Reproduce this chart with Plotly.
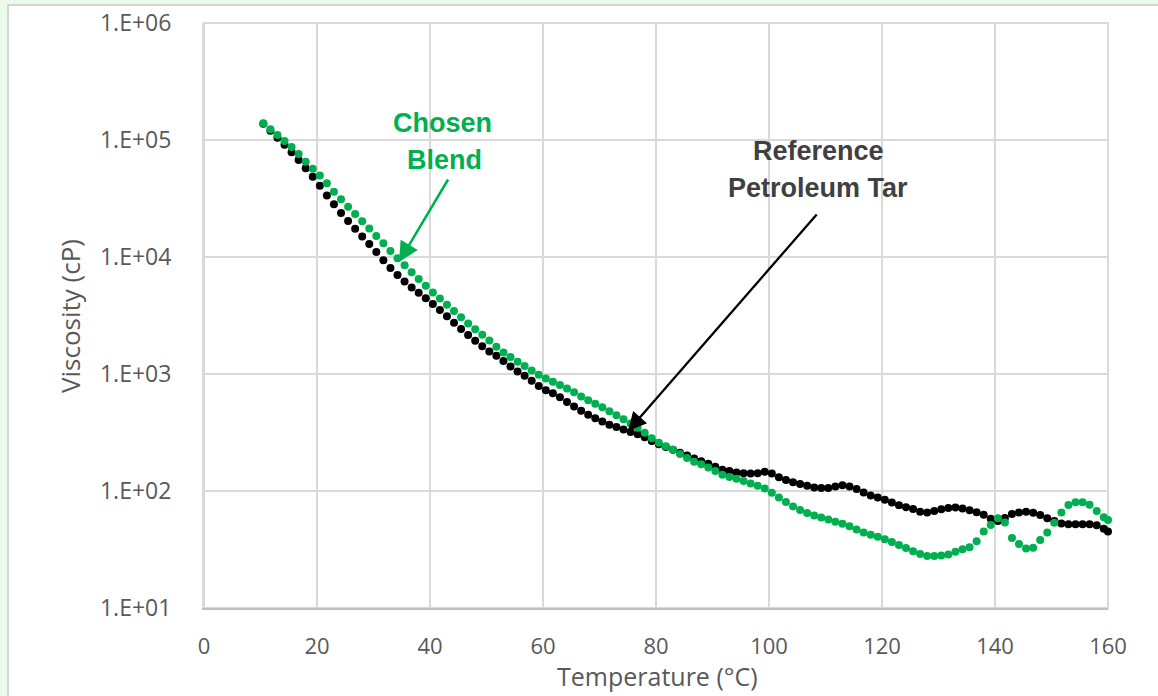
import plotly.graph_objects as go

temperature_c = [
    10.5, 11.75, 13.0, 14.25, 15.5, 16.75, 18.0, 19.25, 20.5, 21.75,
    23.0, 24.25, 25.5, 26.75, 28.0, 29.25, 30.5, 31.75, 33.0, 34.25,
    35.5, 36.75, 38.0, 39.25, 40.5, 41.75, 43.0, 44.25, 45.5, 46.75,
    48.0, 49.25, 50.5, 51.75, 53.0, 54.25, 55.5, 56.75, 58.0, 59.25,
    60.5, 61.75, 63.0, 64.25, 65.5, 66.75, 68.0, 69.25, 70.5, 71.75,
    73.0, 74.25, 75.5, 76.75, 78.0, 79.25, 80.5, 81.75, 83.0, 84.25,
    85.5, 86.75, 88.0, 89.25, 90.5, 91.75, 93.0, 94.25, 95.5, 96.75,
    98.0, 99.25, 100.5, 101.75, 103.0, 104.25, 105.5, 106.75, 108.0, 109.25,
    110.5, 111.75, 113.0, 114.25, 115.5, 116.75, 118.0, 119.25, 120.5, 121.75,
    123.0, 124.25, 125.5, 126.75, 128.0, 129.25, 130.5, 131.75, 133.0, 134.25,
    135.5, 136.75, 138.0, 139.25, 140.5, 141.75, 143.0, 144.25, 145.5, 146.75,
    148.0, 149.25, 150.5, 151.75, 153.0, 154.25, 155.5, 156.75, 158.0, 159.25,
    160.0,
]

reference_tar_cp = [
    138000, 120200, 104700, 91200, 78500, 67300, 57300, 48600, 40600, 33600,
    28200, 23800, 20300, 17400, 14960, 12910, 11040, 9380, 8070, 7000,
    6170, 5500, 4940, 4450, 3960, 3520, 3110, 2740, 2430, 2150,
    1920, 1730, 1560, 1430, 1290, 1160, 1050, 964, 875, 791,
    728, 684, 632, 577, 527, 485, 449, 418, 393, 369,
    352, 335, 320, 306, 288, 268, 251, 238, 225, 212,
    201, 190, 180, 171, 161, 152, 148, 144, 142, 141,
    142, 146, 141, 131, 124, 119, 115, 111, 107, 106,
    106, 109, 112, 109, 104, 97.3, 91.4, 87.9, 84.3, 79.8,
    75.7, 72.8, 70.1, 66.4, 65.5, 67.6, 69.8, 71.6, 72.4, 71.0,
    68.4, 65.9, 62.8, 57.8, 55.5, 58.9, 63.7, 65.5, 66.5, 65.2,
    62.4, 58.6, 55.3, 52.7, 51.9, 52.1, 52.1, 52.0, 50.9, 47.6,
    45.0,
]

chosen_blend_cp = [
    139000, 123600, 110200, 98200, 87300, 75900, 65300, 56900, 49800, 42700,
    36200, 31100, 26900, 23300, 20200, 17500, 15100, 13100, 11270, 9770,
    8490, 7410, 6500, 5680, 4980, 4420, 3910, 3450, 3050, 2700,
    2410, 2170, 1930, 1710, 1530, 1400, 1270, 1170, 1070, 986,
    916, 859, 805, 752, 697, 643, 597, 558, 520, 481,
    445, 411, 378, 347, 315, 283, 258, 241, 225, 207,
    191, 178, 169, 159, 148, 138, 132, 127, 122, 116,
    111, 105, 96.6, 88.1, 80.4, 73.8, 68.9, 64.9, 61.7, 59.3,
    57.0, 54.7, 52.5, 49.9, 46.9, 44.1, 42.2, 40.6, 38.6, 36.6,
    34.5, 32.5, 30.6, 28.9, 27.8, 27.8, 28.1, 28.7, 30.2, 31.8,
    33.0, 37.2, 45.0, 51.1, 58.6, 53.8, 39.7, 35.2, 32.2, 32.7,
    38.2, 44.2, 53.6, 65.6, 76.0, 80.0, 80.0, 76.2, 67.3, 59.8,
    56.5,
]

x_ticks = [0, 20, 40, 60, 80, 100, 120, 140, 160]
y_ticks = [10, 100, 1000, 10000, 100000, 1000000]
y_tick_labels = ["1.E+01", "1.E+02", "1.E+03", "1.E+04", "1.E+05", "1.E+06"]

W, H = 1158, 696
L, R, T, B = 204, 1108, 23, 608
GREEN = "#00b050"
GRID = "#d9d9d9"
TXT = "#595959"


def px_x(p):
    return (p - L) / (R - L)


def px_y(p):
    return (B - p) / (B - T)


fig = go.Figure()
fig.add_trace(go.Scatter(
    x=temperature_c, y=reference_tar_cp, mode="markers",
    name="Reference Petroleum Tar", cliponaxis=False,
    marker=dict(color="#000000", size=8, line=dict(width=0)),
))
fig.add_trace(go.Scatter(
    x=temperature_c, y=chosen_blend_cp, mode="markers",
    name="Chosen Blend", cliponaxis=False,
    marker=dict(color=GREEN, size=8, line=dict(width=0)),
))

# outer panel
fig.add_shape(type="rect", xref="paper", yref="paper",
              x0=px_x(8), x1=px_x(1200), y0=px_y(740), y1=px_y(5),
              fillcolor="white", line=dict(color="#d4d4d4", width=2),
              layer="below")

annos = [
    dict(text="<b>Chosen</b>", x=px_x(442), y=px_y(123), font_color=GREEN),
    dict(text="<b>Blend</b>", x=px_x(444), y=px_y(160), font_color=GREEN),
    dict(text="<b>Reference</b>", x=px_x(818), y=px_y(151), font_color="#404040"),
    dict(text="<b>Petroleum Tar</b>", x=px_x(818), y=px_y(188), font_color="#404040"),
]
for a in annos:
    fig.add_annotation(text=a["text"], x=a["x"], y=a["y"], xref="paper", yref="paper",
                       showarrow=False, xanchor="center", yanchor="middle",
                       font=dict(family="Liberation Sans Narrow, Liberation Sans, Arial",
                                 size=27, color=a["font_color"]))

# arrows (pointer tips given in paper fractions of the plot area)
fig.add_annotation(x=px_x(399), y=px_y(262), xref="paper", yref="paper", text="",
                   showarrow=True, ax=50, ay=-84, arrowhead=2, arrowsize=1.6,
                   arrowwidth=2.5, arrowcolor=GREEN, standoff=0, startstandoff=0)
fig.add_annotation(x=px_x(628), y=px_y(431), xref="paper", yref="paper", text="",
                   showarrow=True, ax=190, ay=-218, arrowhead=2, arrowsize=1.6,
                   arrowwidth=2.3, arrowcolor="#000000", standoff=0, startstandoff=0)

# axis titles
fig.add_annotation(text="Temperature (°C)", x=px_x(657), y=px_y(676), xref="paper", yref="paper",
                   showarrow=False, xanchor="center", yanchor="middle",
                   font=dict(family="Open Sans", size=25, color=TXT))
fig.add_annotation(text="Viscosity (cP)", x=px_x(70), y=px_y(316), xref="paper", yref="paper",
                   showarrow=False, xanchor="center", yanchor="middle", textangle=-90,
                   font=dict(family="Open Sans", size=26, color=TXT))

fig.update_layout(
    width=W, height=H,
    margin=dict(l=L, r=W - R, t=T, b=H - B, pad=0, autoexpand=False),
    paper_bgcolor="#ebfbeb",
    plot_bgcolor="rgba(0,0,0,0)",
    showlegend=False,
    font=dict(family="Open Sans", color=TXT),
)
fig.update_xaxes(
    range=[0, 160], tickvals=x_ticks, ticktext=[str(v) for v in x_ticks],
    showgrid=True, gridcolor=GRID, gridwidth=2, automargin=False,
    zeroline=False, showline=True, linecolor="#bfbfbf", linewidth=2,
    ticks="outside", ticklen=18, tickcolor="rgba(0,0,0,0)",
    tickfont=dict(family="Open Sans", size=22, color=TXT),
)
fig.update_yaxes(
    type="log", range=[1, 6], tickvals=y_ticks, ticktext=y_tick_labels,
    showgrid=True, gridcolor=GRID, gridwidth=2, automargin=False,
    zeroline=False, showline=True, linecolor=GRID, linewidth=2, mirror=False,
    ticks="outside", ticklen=26, tickcolor="rgba(0,0,0,0)",
    tickfont=dict(family="Open Sans", size=23, color=TXT),
)
# left / top / right plot-area border (gridline colour)
fig.add_shape(type="rect", xref="paper", yref="paper", x0=0, x1=1, y0=0, y1=1,
              line=dict(color=GRID, width=2), fillcolor="rgba(0,0,0,0)", layer="below")

fig.write_html("out.html")
